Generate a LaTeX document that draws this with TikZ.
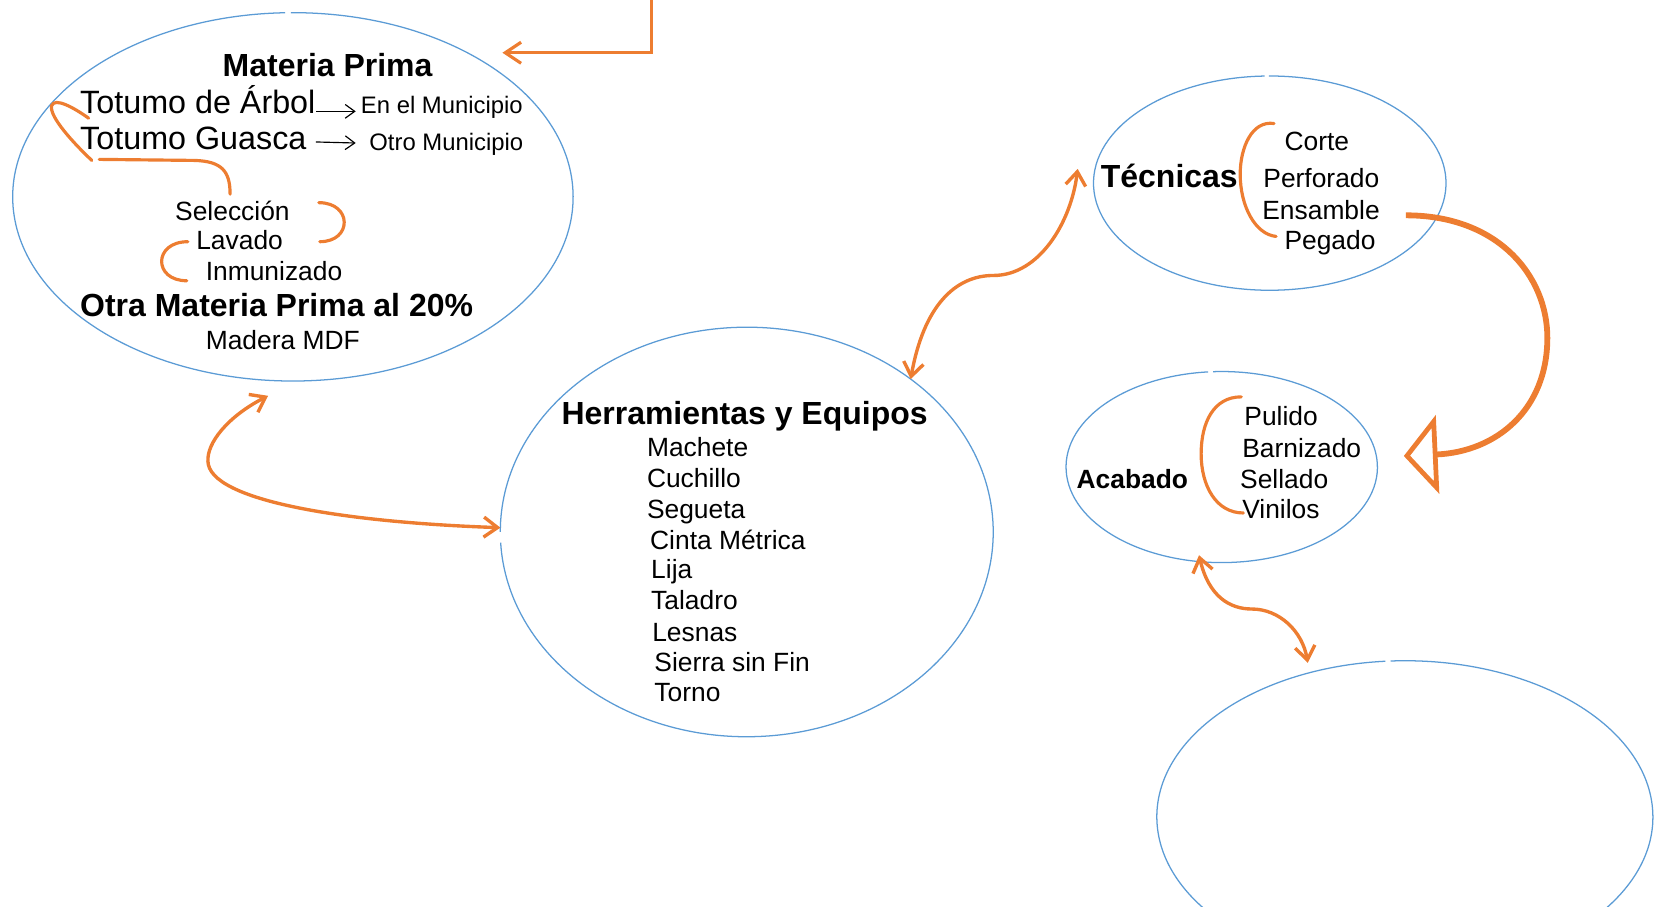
\documentclass[tikz,border=0pt]{standalone}
\usepackage{fontspec}
\setmainfont{Liberation Sans}
\usetikzlibrary{shapes.geometric,arrows.meta}
\definecolor{eblue}{RGB}{91,155,213}
\definecolor{eorange}{RGB}{237,125,49}
\begin{document}
\begin{tikzpicture}[x=1pt,y=-1pt,
  txt/.style={inner sep=0pt, outer sep=0pt, anchor=base west, yshift=-1.5pt, font=\fontsize{25}{30}\selectfont},
  bigtxt/.style={txt, font=\fontsize{30.6}{36}\selectfont},
  bigbold/.style={txt, font=\fontsize{30.3}{36}\selectfont\bfseries},
  midbold/.style={txt, font=\fontsize{25}{30}\selectfont\bfseries},
  smalltxt/.style={txt, font=\fontsize{22.6}{27}\selectfont},
  ebox/.style={ellipse, inner sep=0pt, outer sep=0pt, draw=none},
  outline/.style={draw=eblue, line width=1.2pt},
  brace/.style={draw=eorange, line width=3pt, line cap=round},
  link/.style={draw=eorange, line width=3.2pt, line cap=round, {Straight Barb[length=13pt,width=19pt]}-{Straight Barb[length=13pt,width=19pt]}},
  feed/.style={draw=eorange, line width=3pt, line join=miter, -{Straight Barb[length=15pt,width=20pt]}},
  bigarrow/.style={draw=eorange, line width=5.5pt, -{Triangle[open, length=32pt, width=74pt, line width=4.5pt]}},
  blackarrow/.style={draw=black, line width=1.1pt, -{Straight Barb[length=9pt,width=13pt]}}
]
\useasboundingbox (0,0) rectangle (1568,859);
\clip (0,0) rectangle (1568,859);

% ---- ellipses (nodes) ----
\node[ebox, minimum width=531pt, minimum height=349pt] (matp) at (277.5,186.5) {};
\node[ebox, minimum width=467pt, minimum height=388pt] (herr) at (707.5,504) {};
\node[ebox, minimum width=334pt, minimum height=203pt] (tec) at (1203,173.5) {};
\node[ebox, minimum width=295pt, minimum height=181pt] (acab) at (1157.5,442.5) {};
\node[ebox, minimum width=470pt, minimum height=296pt] (low) at (1331,774) {};

\draw[outline] (matp.center) ++(91.6:265.5pt and 174.5pt) arc[start angle=91.6, end angle=450.4, x radius=265.5pt, y radius=174.5pt];
\draw[outline] (herr.center) ++(183:233.5pt and 194pt) arc[start angle=183, end angle=540, x radius=233.5pt, y radius=194pt];
\draw[outline] (tec.center) ++(91.7:167pt and 101.5pt) arc[start angle=91.7, end angle=450.3, x radius=167pt, y radius=101.5pt];
\draw[outline] (acab.center) ++(95:147.5pt and 90.5pt) arc[start angle=95, end angle=453.2, x radius=147.5pt, y radius=90.5pt];
\draw[outline] (low.center) ++(94.5:235pt and 148pt) arc[start angle=94.5, end angle=453.3, x radius=235pt, y radius=148pt];

% ---- Materia Prima ----
\node[bigbold] (mptitle) at (211,71) {Materia Prima};
\node[bigtxt] (t1) at (76,106) {Totumo de Árbol};
\node[bigtxt] (t2) at (76,140) {Totumo Guasca};
\node[smalltxt] (m1) at (342,106) {En el Municipio};
\node[smalltxt] (m2) at (350,141) {Otro Municipio};
\node[txt] (sel) at (166,207) {Selección};
\node[txt] (lav) at (186,235) {Lavado};
\node[txt] (inm) at (195,264) {Inmunizado};
\node[bigbold] (otra) at (76,298) {Otra Materia Prima al 20\%};
\node[txt] (mdf) at (195,330) {Madera MDF};

\draw[blackarrow] ([shift={(1,-2)}]t1.base east) -- ([shift={(-5,-2)}]m1.base west);
\draw[blackarrow] ([shift={(9,-7)}]t2.base east) -- ([shift={(-13,-7)}]m2.base west);

\draw[brace] (84,112) .. controls (70,102) and (52,92) .. (49,100) .. controls (46,110) and (70,136) .. (87,152);
\draw[brace] (94,151) -- (185,152) .. controls (210,153) and (218,162) .. (218,184);
\draw[brace] (302,192) .. controls (334,192) and (334,229) .. (303,229);
\draw[brace] (178,229) .. controls (145,229) and (145,266) .. (177,266);

% ---- Herramientas y Equipos ----
\node[bigbold] (htitle) at (532,401) {Herramientas y Equipos};
\node[txt] (h1) at (613,431) {Machete};
\node[txt] (h2) at (613,460) {Cuchillo};
\node[txt] (h3) at (613,490) {Segueta};
\node[txt] (h4) at (616,519) {Cinta Métrica};
\node[txt] (h5) at (617,547) {Lija};
\node[txt] (h6) at (617,576) {Taladro};
\node[txt] (h7) at (618,606) {Lesnas};
\node[txt] (h8) at (620,635) {Sierra sin Fin};
\node[txt] (h9) at (620,663) {Torno};

% ---- Técnicas ----
\node[bigbold] (ttitle) at (1043,176) {Técnicas};
\node[txt] (c1) at (1217,141) {Corte};
\node[txt] (c2) at (1197,176) {Perforado};
\node[txt] (c3) at (1196,206) {Ensamble};
\node[txt] (c4) at (1217,235) {Pegado};
\draw[brace] (1207,117) .. controls (1186,114) and (1175,140) .. (1175,165) .. controls (1175,195) and (1189,222) .. (1209,224);

% ---- Acabado ----
\node[midbold] (atitle) at (1020,461) {Acabado};
\node[txt] (a1) at (1179,402) {Pulido};
\node[txt] (a2) at (1177,432) {Barnizado};
\node[txt] (a3) at (1175,461) {Sellado};
\node[txt] (a4) at (1177,490) {Vinilos};
\draw[brace] (1176,376) .. controls (1150,376) and (1138,400) .. (1138,430) .. controls (1138,460) and (1152,486) .. (1178,486);

% ---- connectors ----
\coordinate (topsrc) at (617,-4);
\coordinate (mpin) at (476,50);
\draw[feed] (topsrc) |- (mpin);

\coordinate (mpbot) at (254,375);
\draw[link] (mpbot) .. controls (215,395) and (196,420) .. (197,437) .. controls (198,475) and (330,495) .. (herr.179);

\coordinate (tecin) at (1021,160);
\draw[link] (herr.43) .. controls (875,290) and (905,261) .. (941,261) .. controls (985,261) and (1015,210) .. (tecin);

\coordinate (tecout) at (1332,204);
\coordinate (acin) at (1330,432);
\draw[bigarrow] (tecout) .. controls (1420,204) and (1466,262) .. (1466,320) .. controls (1466,388) and (1418,428) .. (acin);

\coordinate (acbot) at (1136,526);
\coordinate (lowtop) at (1239,628);
\draw[link] (acbot) .. controls (1145,565) and (1165,577) .. (1186,577) .. controls (1212,577) and (1234,598) .. (lowtop);
\end{tikzpicture}
\end{document}
